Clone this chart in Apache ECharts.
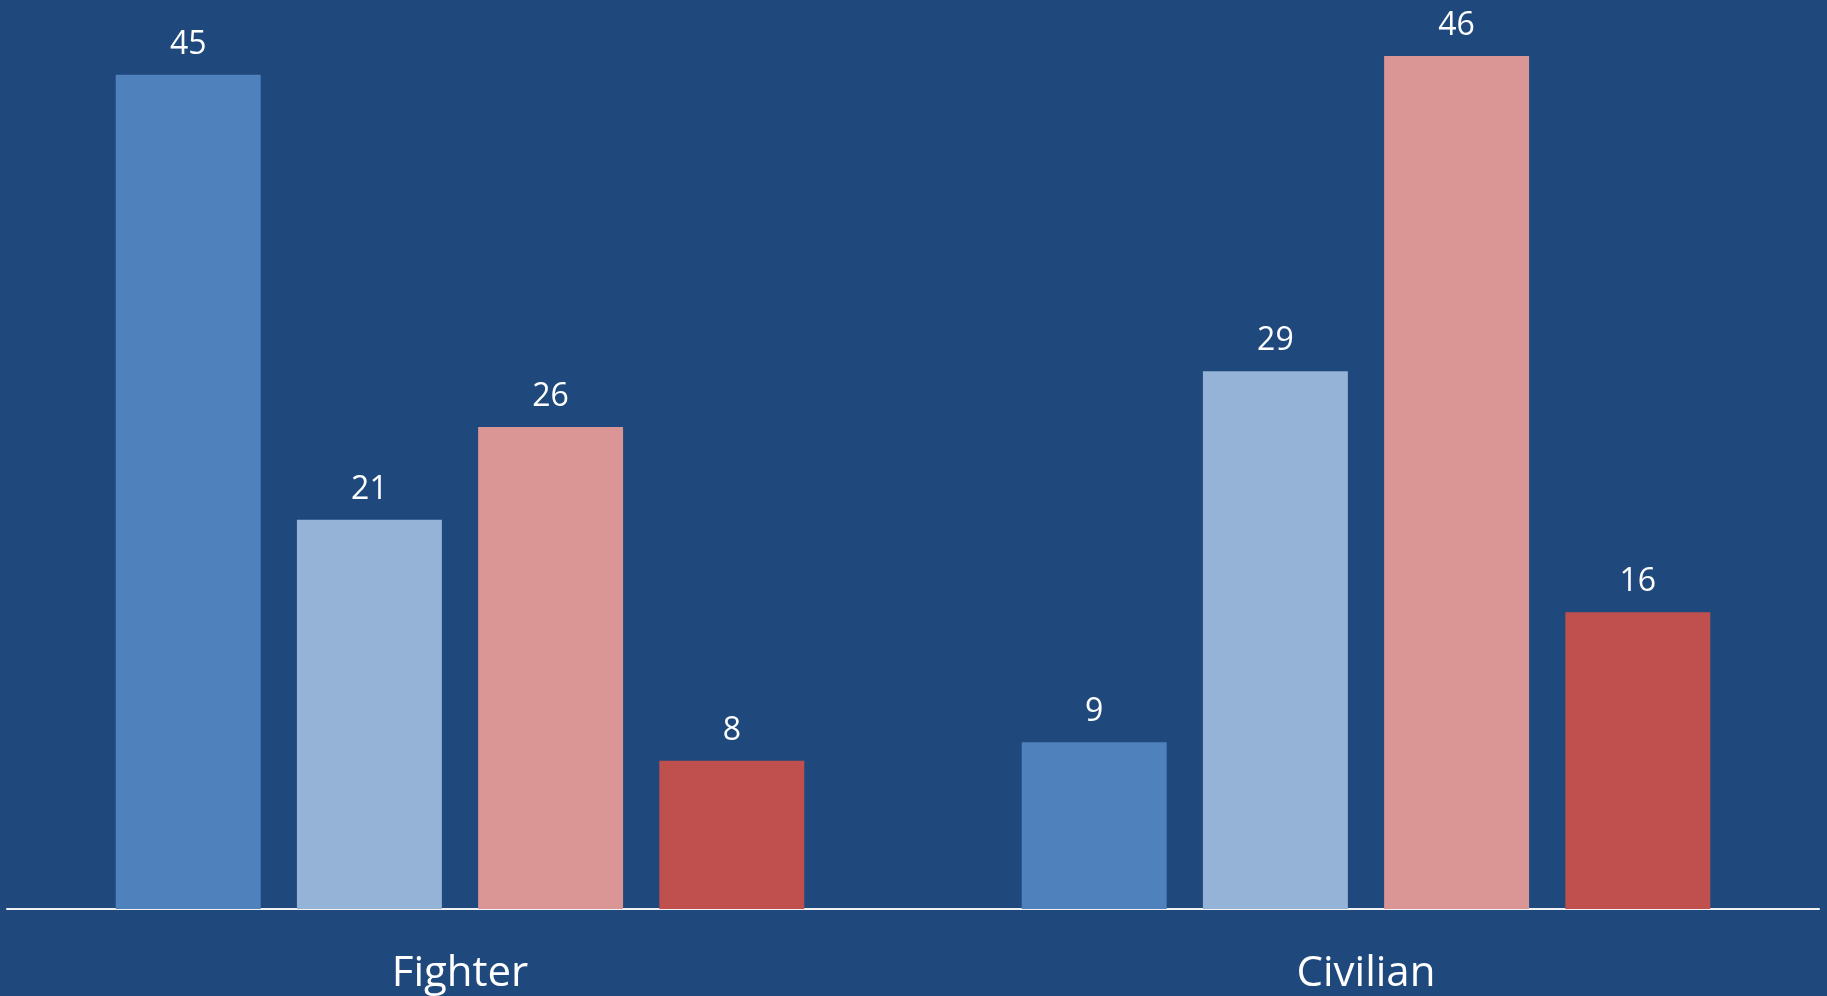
<!DOCTYPE html>
<html>
<head>
<meta charset="utf-8">
<script src="https://cdn.jsdelivr.net/npm/echarts@6/dist/echarts.min.js"></script>
<style>
  html, body { margin: 0; padding: 0; background: #1F497D; }
  #chart { width: 1827px; height: 996px; }
</style>
</head>
<body>
<div id="chart"></div>
<script>
// Chart data
const categories = ['Fighter', 'Civilian'];
const seriesA = [45, 9];
const seriesB = [21, 29];
const seriesC = [26, 46];
const seriesD = [8, 16];
const barColors = ['#4F81BD', '#95B3D7', '#D99694', '#C0504D'];

const chart = echarts.init(document.getElementById('chart'));

const makeSeries = (data, color) => ({
    type: 'bar',
    data: data,
    barGap: '25%',
    barCategoryGap: '24%',
    itemStyle: { color: color },
    label: {
        show: true,
        position: 'top',
        distance: 14,
        color: '#FFFFFF',
        fontSize: 32,
        fontFamily: 'Open Sans'
    }
});

const option = {
    backgroundColor: '#1F497D',
    animation: false,
    grid: { left: 7, right: 8, top: 19, bottom: 87 },
    xAxis: {
        type: 'category',
        data: categories,
        axisLine: { lineStyle: { color: '#F2F2F2', width: 2 } },
        axisTick: { show: false },
        axisLabel: {
            color: '#FFFFFF',
            fontSize: 42,
            fontFamily: 'Open Sans',
            margin: 44
        }
    },
    yAxis: {
        type: 'value',
        min: 0,
        max: 48,
        show: false,
        splitLine: { show: false }
    },
    series: [
        makeSeries(seriesA, barColors[0]),
        makeSeries(seriesB, barColors[1]),
        makeSeries(seriesC, barColors[2]),
        makeSeries(seriesD, barColors[3])
    ]
};

chart.setOption(option);
window.addEventListener('resize', () => chart.resize());
</script>
</body>
</html>
